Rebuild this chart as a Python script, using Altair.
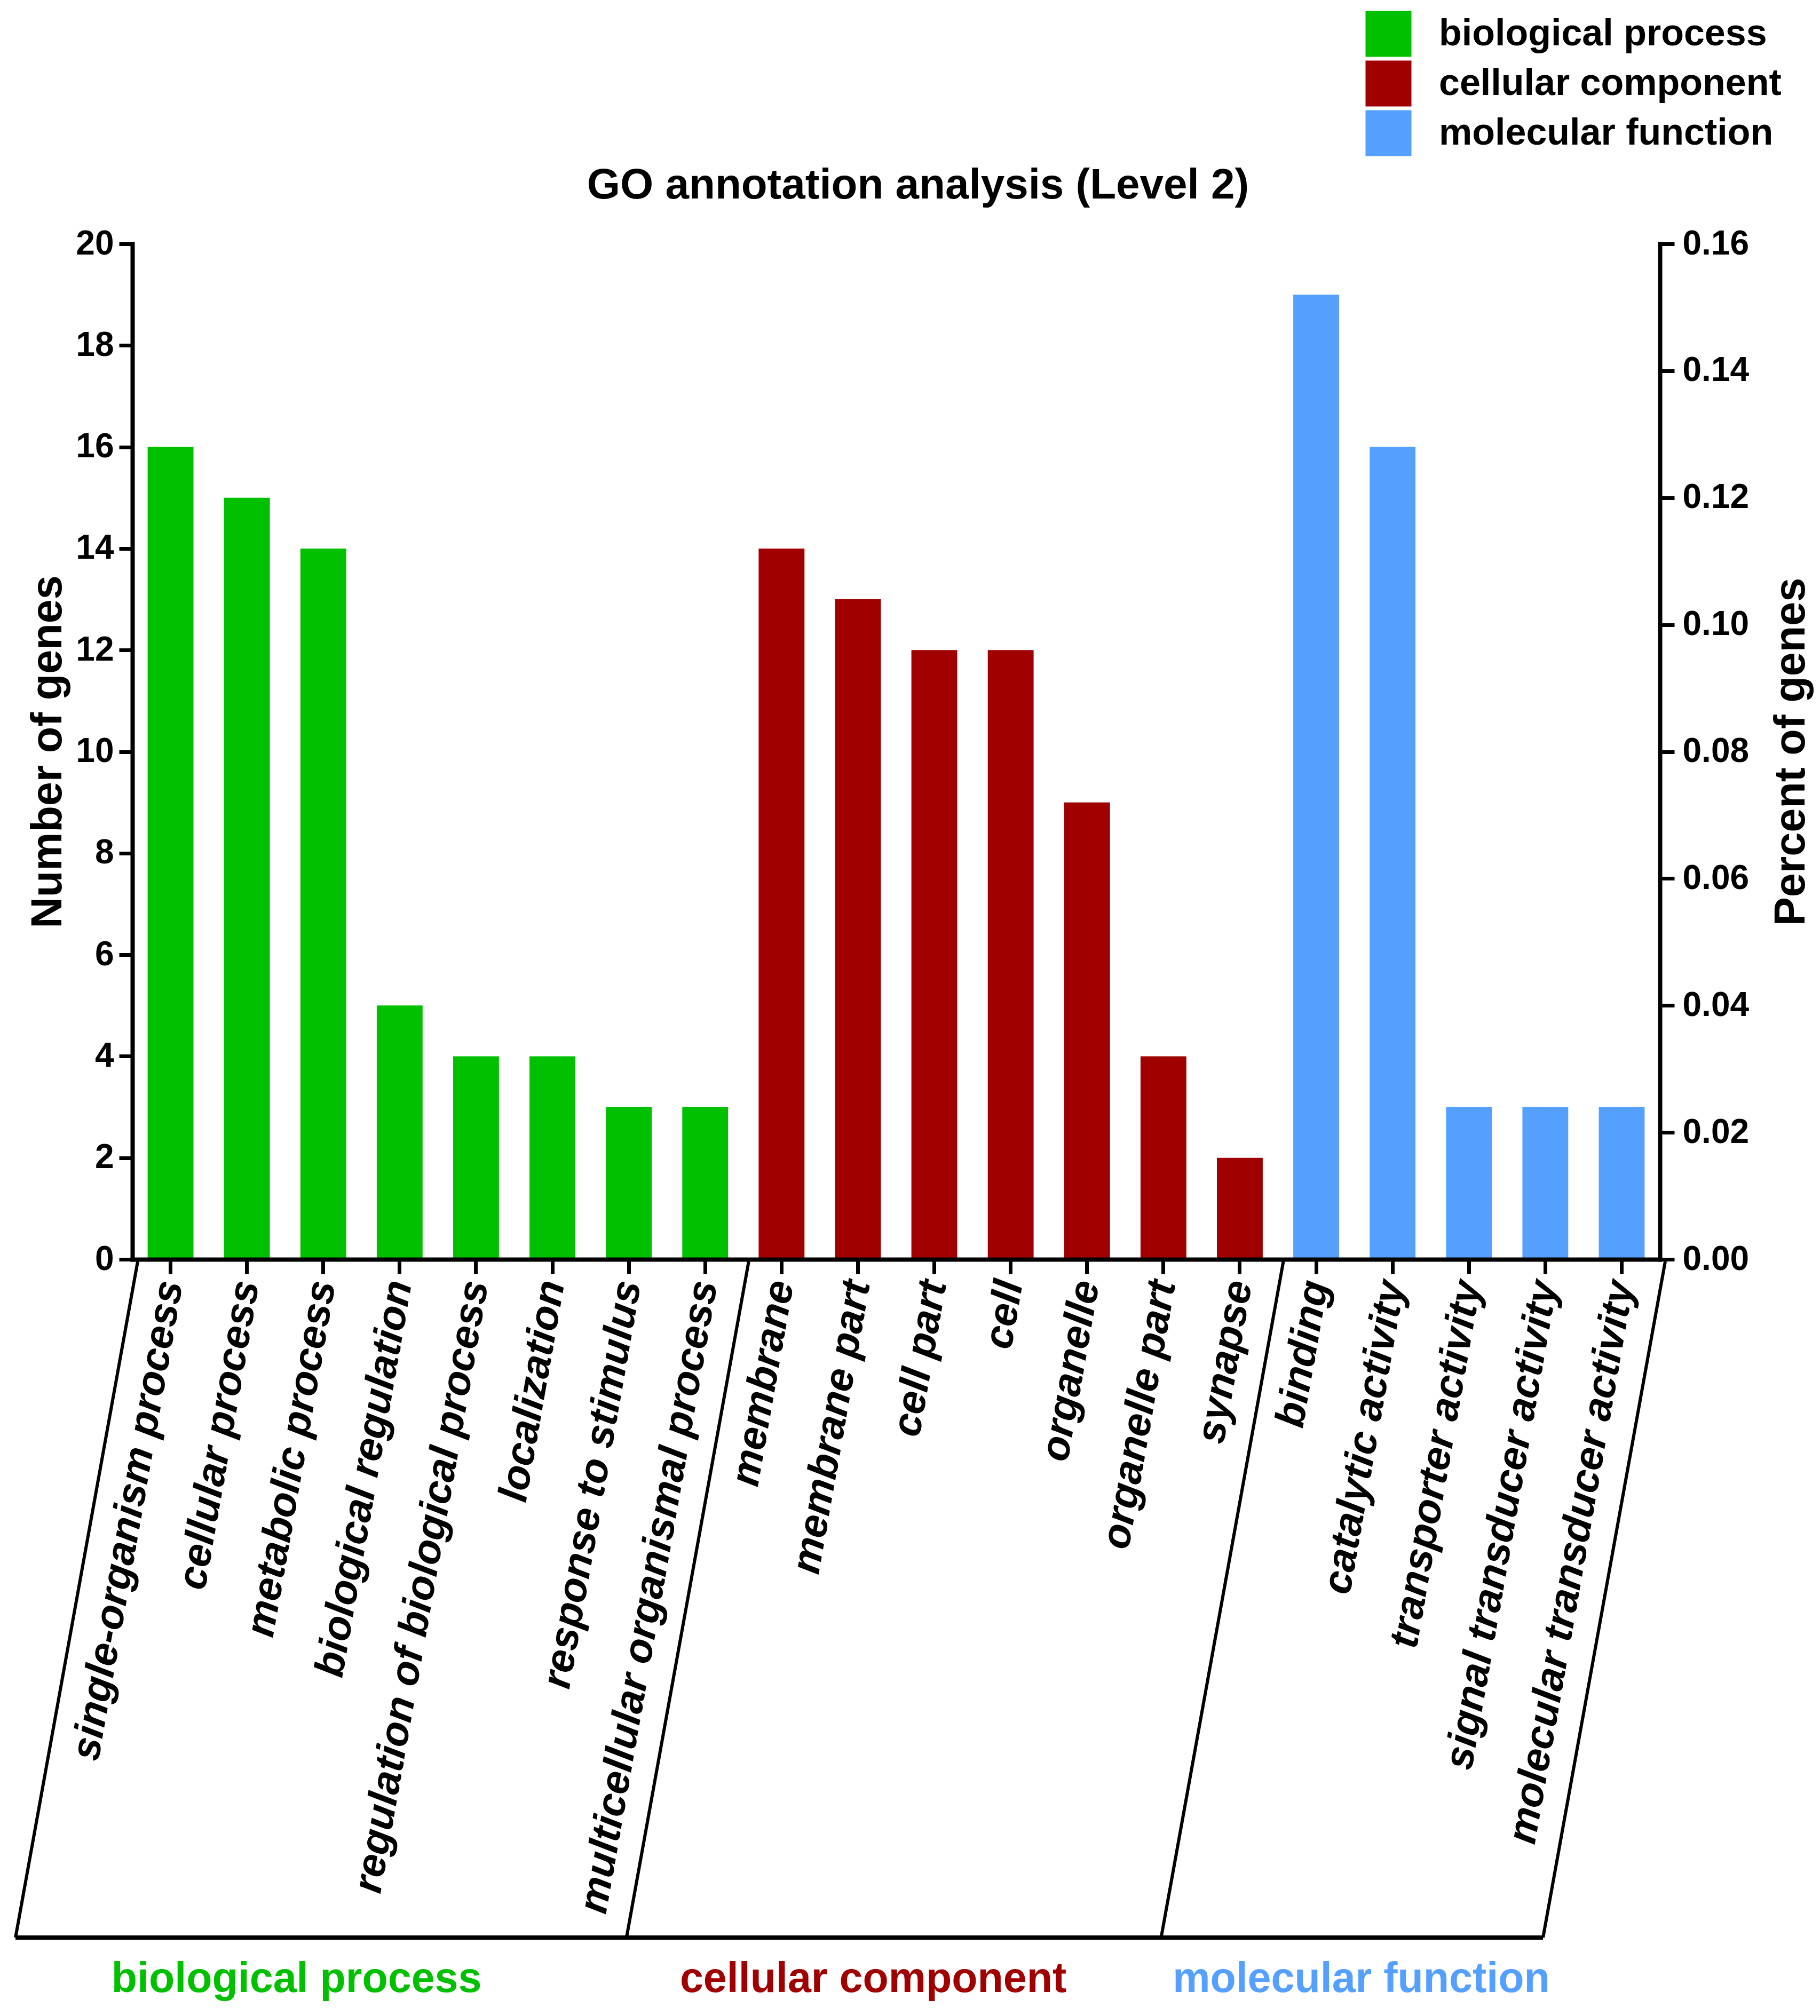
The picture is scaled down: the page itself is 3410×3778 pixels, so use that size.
import altair as alt
import pandas as pd

# ---------------- data ----------------
terms = [
    "single-organism process", "cellular process", "metabolic process",
    "biological regulation", "regulation of biological process", "localization",
    "response to stimulus", "multicellular organismal process",
    "membrane", "membrane part", "cell part", "cell", "organelle",
    "organelle part", "synapse",
    "binding", "catalytic activity", "transporter activity",
    "signal transducer activity", "molecular transducer activity",
]
counts = [16, 15, 14, 5, 4, 4, 3, 3,
          14, 13, 12, 12, 9, 4, 2,
          19, 16, 3, 3, 3]
group_names = ["biological process", "cellular component", "molecular function"]
group_sizes = [8, 7, 5]
group_colors = ["#00C000", "#A00000", "#55A0FF"]
total_genes = 125          # 20 genes <-> 0.16 on the right axis
count_ticks = [0, 2, 4, 6, 8, 10, 12, 14, 16, 18, 20]
percent_ticks = [0.0, 0.02, 0.04, 0.06, 0.08, 0.10, 0.12, 0.14, 0.16]
group_label_slots = [2.15, 9.70, 16.09]   # centre of each group label, in bar slots
title_text = "GO annotation analysis (Level 2)"

# ---------------- layout ----------------
FONT = "Liberation Sans"
W, H = 2862, 1903
DROP = 1271          # depth of the bracket below the x axis
SLANT = 1.53         # horizontal slant of the bracket lines, in bar slots
TOP_SHIFT = 0.07
n = len(terms)

groups = [g for g, s in zip(group_names, group_sizes) for _ in range(s)]
df = pd.DataFrame({
    "term": terms,
    "count": counts,
    "group": groups,
    "percent": [c / total_genes for c in counts],
})

bounds = [0]
for s in group_sizes:
    bounds.append(bounds[-1] + s)
sep_df = pd.DataFrame({"top": [b + TOP_SHIFT for b in bounds],
                       "bottom": [b - SLANT for b in bounds]})
base_df = pd.DataFrame({"start": [bounds[0] - SLANT], "end": [bounds[-1] - SLANT]})
glab_df = pd.DataFrame({"name": group_names, "slot": group_label_slots})
title_df = pd.DataFrame({"t": [title_text]})

slot_scale = alt.Scale(domain=[0, n], nice=False, zero=False)
xband = alt.Scale(paddingInner=0.4, paddingOuter=0.2)

bars = alt.Chart(df).mark_bar().encode(
    x=alt.X("term:N", sort=terms, scale=xband,
            axis=alt.Axis(title=None, labelAngle=280, labelAlign="right",
                          labelBaseline="middle", labelFont=FONT, labelFontSize=77,
                          labelFontWeight="bold", labelFontStyle="italic",
                          labelColor="black", labelPadding=13, labelLimit=3000,
                          labelOverlap=False, tickSize=27, tickWidth=7,
                          tickColor="black", domainWidth=8, domainColor="black",
                          domainCap="square", zindex=1)),
    y=alt.Y("count:Q", scale=alt.Scale(domain=[0, 20], nice=False),
            axis=alt.Axis(values=count_ticks, format="d", title="Number of genes",
                          titleFont=FONT, titleFontSize=81, titleFontWeight="bold",
                          titleColor="black", titlePadding=10,
                          labelFont=FONT, labelFontSize=64, labelFontWeight="bold",
                          labelColor="black", labelPadding=10, tickSize=25,
                          tickWidth=7, tickColor="black", domainWidth=8,
                          domainColor="black", domainCap="square", grid=False,
                          zindex=1)),
    color=alt.Color("group:N",
                    scale=alt.Scale(domain=group_names, range=group_colors),
                    legend=alt.Legend(title=None, orient="none", legendX=2310,
                                      legendY=-437, symbolType="square",
                                      symbolSize=7400, symbolStrokeWidth=0,
                                      symbolOpacity=1,
                                      labelFont=FONT, labelFontSize=70,
                                      labelFontWeight="bold", labelColor="black",
                                      labelOffset=51, rowPadding=6, padding=0,
                                      labelLimit=2000)),
)

right = alt.Chart(df).mark_bar(opacity=0).encode(
    x=alt.X("term:N", sort=terms, scale=xband, axis=None),
    y=alt.Y("percent:Q", scale=alt.Scale(domain=[0, 0.16], nice=False),
            axis=alt.Axis(orient="right", values=percent_ticks, format=".2f",
                          title="Percent of genes", titleAngle=270,
                          titleBaseline="top", titleFont=FONT, titleFontSize=81,
                          titleFontWeight="bold", titleColor="black",
                          titlePadding=40,
                          labelFont=FONT, labelFontSize=64, labelFontWeight="bold",
                          labelColor="black", labelPadding=15, tickSize=27,
                          tickWidth=7, tickColor="black", domainWidth=8,
                          domainColor="black", domainCap="square", grid=False,
                          zindex=1)),
)

seps = alt.Chart(sep_df).mark_rule(color="black", strokeWidth=6).encode(
    x=alt.X("top:Q", scale=slot_scale, axis=None),
    x2="bottom:Q",
    y=alt.value(H + 4),
    y2=alt.value(H + DROP),
)

base = alt.Chart(base_df).mark_rule(color="black", strokeWidth=8).encode(
    x=alt.X("start:Q", scale=slot_scale, axis=None),
    x2="end:Q",
    y=alt.value(H + DROP),
)

glabels = alt.Chart(glab_df).mark_text(
    font=FONT, fontSize=79, fontWeight="bold", baseline="alphabetic", align="center"
).encode(
    x=alt.X("slot:Q", scale=slot_scale, axis=None),
    y=alt.value(H + 1373),
    text="name:N",
    color=alt.Color("name:N", scale=alt.Scale(domain=group_names, range=group_colors),
                    legend=None),
)

title = alt.Chart(title_df).mark_text(
    font=FONT, fontSize=80, fontWeight="bold", baseline="alphabetic",
    align="center", color="black"
).encode(
    x=alt.value(W / 2 + 41),
    y=alt.value(-85),
    text="t:N",
)

chart = alt.layer(bars, right, seps, base, glabels, title).resolve_scale(
    x="independent", y="independent", color="independent"
).properties(
    width=W, height=H,
    autosize=alt.AutoSizeParams(type="none"),
    padding={"left": 240, "top": 449, "right": 292, "bottom": 1410},
    background="white",
).configure(font=FONT).configure_view(stroke=None, strokeWidth=0)

chart.save("out.html", embed_options={"renderer": "svg", "actions": False})
